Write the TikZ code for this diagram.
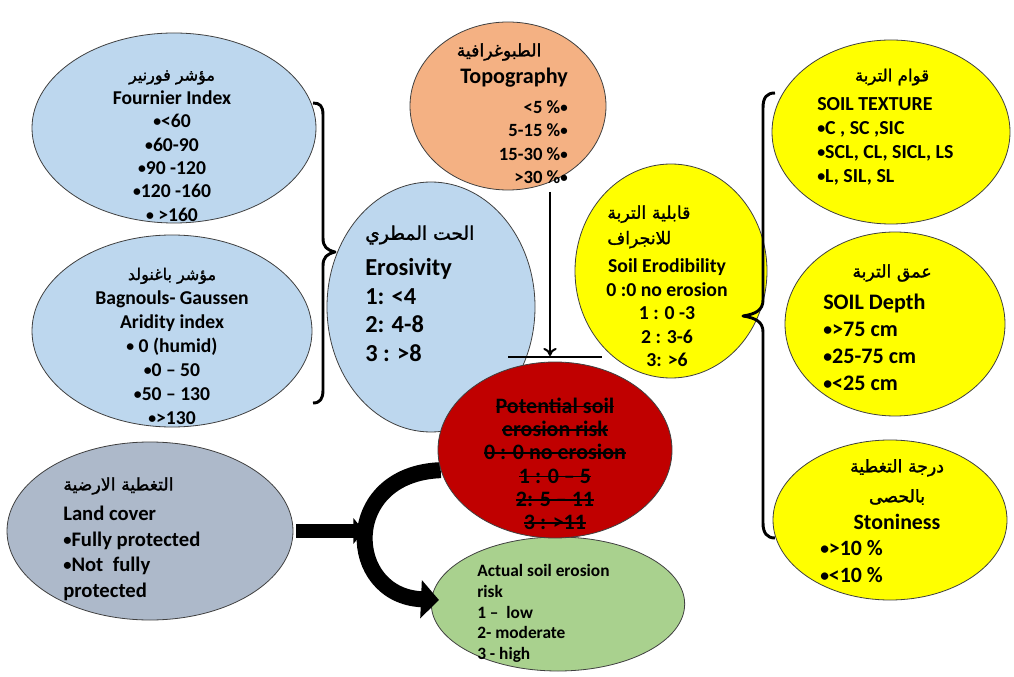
\documentclass[tikz,border=0pt]{standalone}
\usepackage{fontspec}
\setmainfont{Carlito}
\newfontfamily\arabicfont[Script=Arabic,BoldFont={DejaVu Sans},BoldFeatures={FakeBold=1.5}]{DejaVu Sans}
\TeXXeTstate=1
\usetikzlibrary{shapes.geometric,arrows.meta}
\newsavebox\strkbox
\newcommand\strk[1]{\sbox\strkbox{#1}\rlap{\usebox\strkbox}\rule[0.27em]{\wd\strkbox}{1.3pt}}
\newcommand\artxt[1]{{\arabicfont\beginR #1\endR}}
\newcommand\fsz[2]{\fontsize{#1}{#2}\selectfont}
\newcommand\bul{\raisebox{0.05em}{\scalebox{0.8}{•}}}
\definecolor{lblue}{HTML}{BDD7EE}
\definecolor{lorange}{HTML}{F4B183}
\definecolor{yel}{HTML}{FFFF00}
\definecolor{dred}{HTML}{C00000}
\definecolor{lgrey}{HTML}{ADB9CA}
\definecolor{lgreen}{HTML}{A9D18E}
\pgfdeclarelayer{back}
\pgfsetlayers{back,main}
\tikzset{
  ell/.style={ellipse, draw=black!75, line width=0.6pt, inner sep=0pt},
  lbl/.style={inner sep=0pt, text=black},
  brc/.style={line width=2.2pt, line join=round},
  blk/.style={line width=11pt},
}
\begin{document}
\begin{tikzpicture}[x=0.75pt,y=-0.75pt]
\useasboundingbox (0,0) rectangle (1014,677);
\begin{pgfonlayer}{back}
\fill[white] (0,0) rectangle (1014,677);
\end{pgfonlayer}

% Fournier
\node[ell, fill=lblue, minimum width=213pt, minimum height=142.5pt] (four) at (174,128) {};
\node[lbl, align=center, font=\bfseries\fsz{14.7}{17.6}] (fourT) at (172,146)
  {{\fsz{12}{17.6}\artxt{مؤشر فورنير}}\\Fournier Index\\\bul<60\\\bul60-90\\\bul90 -120\\\bul120 -160\\\bul{} >160};

% Bagnouls
\node[ell, fill=lblue, minimum width=210pt, minimum height=144pt] (bagn) at (172,331) {};
\node[lbl, align=center, font=\bfseries\fsz{14.7}{18}] (bagnT) at (172,346)
  {{\fsz{12}{18}\artxt{مؤشر باغنولد}}\\Bagnouls- Gaussen\\Aridity index\\\bul{} 0 (humid)\\\bul0 – 50\\\bul50 – 130\\\bul>130};

% Erosivity
\node[ell, fill=lblue, minimum width=156pt, minimum height=187.5pt] (eros) at (431,307) {};
\node[lbl, anchor=west, font=\bfseries\fsz{14}{16}] (erosA) at (365,235) {\artxt{الحت المطري}};
\node[lbl, anchor=west, align=left, font=\bfseries\fsz{18.3}{21.7}] (erosT) at (365,310)
  {Erosivity\\1: <4\\2: 4-8\\3 : >8};

% Topography
\node[ell, fill=lorange, minimum width=147pt, minimum height=126pt] (topo) at (508,106) {};
\node[lbl, font=\bfseries\fsz{13}{14}] (topoA) at (499,52) {\artxt{الطبوغرافية}};
\node[lbl, anchor=east, font=\bfseries\fsz{16.6}{20}] (topoT) at (568,78) {Topography};
\node[lbl, anchor=east, align=right, font=\bfseries\fsz{14}{17.5}] (topoL) at (568,142)
  {<5 \%\bul\\5-15 \%\bul\\15-30 \%\bul\\>30 \%\bul};

% Soil erodibility
\node[ell, fill=yel, minimum width=144pt, minimum height=160.5pt] (erod) at (671,271) {};
\node[lbl, anchor=west, align=left, font=\bfseries\fsz{13}{19}] (erodA) at (607,227)
  {\artxt{قابلية التربة}\\\artxt{للانجراف}};
\node[lbl, align=center, font=\bfseries\fsz{14.8}{17.6}] (erodT) at (667,313)
  {Soil Erodibility\\0 :0 no erosion\\1 : 0 -3\\2 : 3-6\\3: >6};

% Soil texture
\node[ell, fill=yel, minimum width=178.5pt, minimum height=138pt] (tex) at (891,132) {};
\node[lbl, font=\bfseries\fsz{12.5}{14}] (texA) at (892,77) {\artxt{قوام التربة}};
\node[lbl, anchor=west, align=left, font=\bfseries\fsz{14.9}{18}] (texT) at (817,141)
  {SOIL TEXTURE\\\bul C , SC ,SIC\\\bul SCL, CL, SICL, LS\\\bul L, SIL, SL};

% Soil depth
\node[ell, fill=yel, minimum width=165pt, minimum height=138pt] (dep) at (895,324) {};
\node[lbl, font=\bfseries\fsz{13}{15}] (depA) at (892,273) {\artxt{عمق التربة}};
\node[lbl, anchor=west, align=left, font=\bfseries\fsz{16.6}{20.3}] (depT) at (823,342)
  {SOIL Depth\\\bul>75 cm\\\bul25-75 cm\\\bul<25 cm};

% Stoniness
\node[ell, fill=yel, minimum width=175.5pt, minimum height=120pt] (sto) at (890,520) {};
\node[lbl, align=center, font=\bfseries\fsz{13}{22.5}] (stoA) at (897,482)
  {\artxt{درجة التغطية}\\\artxt{بالحصى}};
\node[lbl, font=\bfseries\fsz{16.4}{19}] (stoT) at (897,522) {Stoniness};
\node[lbl, anchor=west, align=left, font=\bfseries\fsz{16.4}{20.3}] (stoL) at (820,561.5)
  {\bul>10 \%\\\bul<10 \%};

% Potential soil erosion risk
\node[ell, fill=dred, minimum width=175.5pt, minimum height=132pt] (pot) at (555,450) {};
\node[lbl, align=center, font=\bfseries\fsz{16.5}{17.5}] (potT) at (555,464)
  {\strk{Potential soil}\\\strk{erosion risk}\\\strk{0 : 0 no erosion}\\\strk{1 : 0 – 5}\\\strk{2: 5 – 11}\\\strk{3 : >11}};

% Land cover
\node[ell, fill=lgrey, minimum width=214.5pt, minimum height=133.5pt] (land) at (150,531) {};
\node[lbl, anchor=west, font=\bfseries\fsz{13}{15}] (landA) at (63,486) {\artxt{التغطية الارضية}};
\node[lbl, anchor=west, align=left, font=\bfseries\fsz{15.5}{19.3}] (landT) at (63,553.5)
  {Land cover\\\bul Fully protected\\\bul Not~~fully\\protected};

% Actual soil erosion risk (behind the red ellipse)
\begin{pgfonlayer}{back}
\node[ell, fill=lgreen, minimum width=190pt, minimum height=100.5pt] (act) at (558,604) {};
\coordinate (actTip) at (439,600);
\draw[line width=12pt, -{Triangle[length=13.5pt,width=28pt]}]
  (pot.190) .. controls (340,474) and (345,596) .. (actTip);
\end{pgfonlayer}
\node[lbl, anchor=west, align=left, font=\bfseries\fsz{13}{15.5}] (actT) at (477,613.5)
  {Actual soil erosion\\risk\\1 –~~low\\2- moderate\\3 - high};

% Land cover block arrow
\coordinate (blkEnd) at (364,531);
\draw[blk, -{Triangle[length=8pt,width=19pt]}] ([xshift=2pt]land.east) -- (blkEnd);

% Topography arrow and bar
\coordinate (arrTop) at (550,192);
\coordinate (arrBot) at (550,356);
\coordinate (barL) at (508,357);
\coordinate (barR) at (602,357);
\draw[line width=1.5pt, -{To[length=6pt,width=10pt]}] (arrTop) -- (arrBot);
\draw[line width=2pt] (barL) -- (barR);

% Braces
\draw[brc] (313,103) .. controls (320,103) and (323,106) .. (323,115) -- (323,238)
  .. controls (323,247) and (327,250) .. (335,252) .. controls (327,254) and (323,257) .. (323,266)
  -- (323,390) .. controls (323,399) and (320,403) .. (313,403);
\draw[brc] (775,93) .. controls (767,93) and (763,97) .. (763,108) -- (763,300)
  .. controls (763,310) and (756,314) .. (743,316) .. controls (756,318) and (763,322) .. (763,332)
  -- (763,523) .. controls (763,533) and (767,538) .. (775,538);
\end{tikzpicture}
\end{document}
